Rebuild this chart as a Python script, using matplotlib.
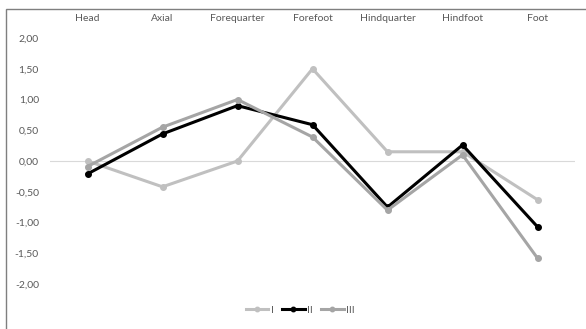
import matplotlib.pyplot as plt
from matplotlib.patches import Rectangle
from matplotlib.ticker import FuncFormatter

categories = ["Head", "Axial", "Forequarter", "Forefoot", "Hindquarter", "Hindfoot", "Foot"]
series_I = [0.00, -0.42, 0.00, 1.50, 0.15, 0.15, -0.63]
series_II = [-0.21, 0.44, 0.90, 0.59, -0.75, 0.26, -1.07]
series_III = [-0.09, 0.55, 1.00, 0.39, -0.80, 0.10, -1.58]

plt.rcParams["font.family"] = ["Lato", "DejaVu Sans"]
text_col = "#595959"

fig = plt.figure(figsize=(5.86, 3.29), dpi=100)
ax = fig.add_axes([50 / 586, 1 - 284 / 329, 525 / 586, 246 / 329])

x = list(range(len(categories)))
ax.plot(x, series_I, color="#c0c0c0", lw=2.2, marker="o", ms=4, label="I")
ax.plot(x, series_II, color="black", lw=2.2, marker="o", ms=4, label="II")
ax.plot(x, series_III, color="#a5a5a5", lw=2.2, marker="o", ms=4, label="III")

ax.axhline(0, color="#d9d9d9", lw=0.8, zorder=0)

ax.set_xlim(-0.5, len(categories) - 0.5)
ax.set_ylim(-2, 2)
ax.set_yticks([2, 1.5, 1, 0.5, 0, -0.5, -1, -1.5, -2])
ax.yaxis.set_major_formatter(FuncFormatter(lambda v, p: f"{v:.2f}".replace(".", ",")))

ax.xaxis.tick_top()
ax.set_xticks(x)
ax.set_xticklabels(categories)
ax.tick_params(axis="x", length=0, pad=11, labelsize=7.5, colors=text_col)
ax.tick_params(axis="y", length=0, pad=8, labelsize=7.5, colors=text_col)
for s in ax.spines.values():
    s.set_visible(False)

fig.legend(loc="center", bbox_to_anchor=(300 / 586, 1 - 310 / 329), ncol=3,
           frameon=False, fontsize=7.5, handlelength=2.2, handletextpad=0.2,
           columnspacing=0.8, labelcolor=text_col, markerscale=0.8)

fig.add_artist(Rectangle((6 / 586, -0.1), 1.2, (329 - 9) / 329 + 0.1,
                         transform=fig.transFigure, fill=False, ec="#7f7f7f", lw=1))

fig.savefig("out.png", dpi=100)
